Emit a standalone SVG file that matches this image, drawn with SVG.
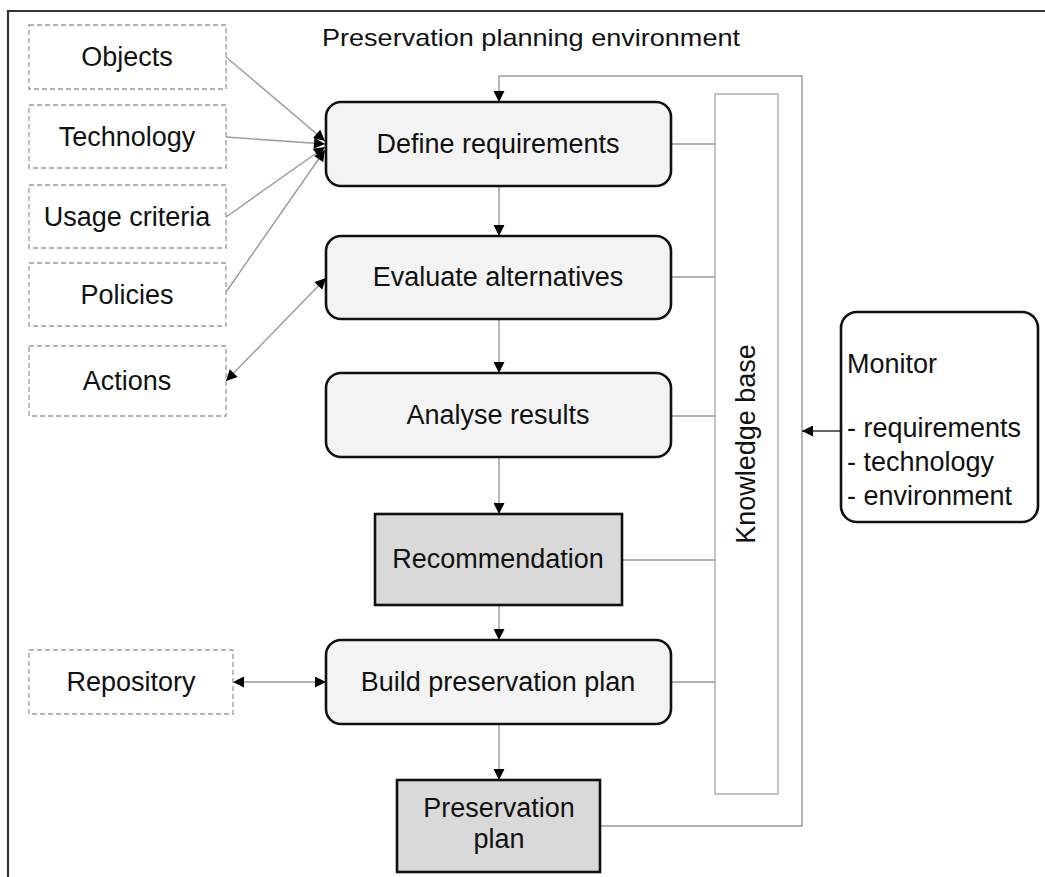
<svg xmlns="http://www.w3.org/2000/svg" width="1045" height="877" viewBox="0 0 1045 877">
<style>
text{font-family:"Liberation Sans",Arial,sans-serif;font-size:27px;fill:#111;text-anchor:middle}
.dash{fill:#fff;stroke:#9a9a9a;stroke-width:1.3;stroke-dasharray:5,3}
.step{fill:#f3f3f3;stroke:#111;stroke-width:2.6}
.out{fill:#d9d9d9;stroke:#111;stroke-width:2.6}
.con{fill:none;stroke:#9a9a9a;stroke-width:1.4}
.ar{marker-end:url(#ah)}
.bi{marker-start:url(#ah);marker-end:url(#ah)}
</style>
<defs>
<marker id="ah" viewBox="0 0 10 10" refX="10" refY="5" markerWidth="12" markerHeight="11" markerUnits="userSpaceOnUse" orient="auto-start-reverse">
<path d="M0,0 L10,5 L0,10 z" fill="#000"/>
</marker>
</defs>
<rect width="1045" height="877" fill="#fff"/>
<path d="M8,877 V11 H1045" fill="none" stroke="#333" stroke-width="2.2"/>
<text x="531" y="46" style="font-size:24px" textLength="418" lengthAdjust="spacingAndGlyphs">Preservation planning environment</text>

<g id="connectors">
<line class="con ar" x1="226" y1="57" x2="325" y2="141"/>
<line class="con ar" x1="226" y1="137" x2="325" y2="144"/>
<line class="con ar" x1="226" y1="217" x2="325" y2="147"/>
<line class="con ar" x1="226" y1="292" x2="325" y2="150"/>
<line class="con bi" x1="226" y1="381" x2="326" y2="278"/>
<line class="con bi" x1="233" y1="682" x2="326" y2="682"/>
<line class="con ar" x1="499" y1="186" x2="499" y2="236"/>
<line class="con ar" x1="499" y1="319" x2="499" y2="373"/>
<line class="con ar" x1="499" y1="457" x2="499" y2="514"/>
<line class="con ar" x1="499" y1="605" x2="499" y2="640"/>
<line class="con ar" x1="499" y1="724" x2="499" y2="780"/>
<line class="con" x1="671" y1="144" x2="715" y2="144"/>
<line class="con" x1="671" y1="277" x2="715" y2="277"/>
<line class="con" x1="671" y1="416" x2="715" y2="416"/>
<line class="con" x1="622" y1="560" x2="715" y2="560"/>
<line class="con" x1="671" y1="682" x2="715" y2="682"/>
<path class="con ar" d="M600,826 H802 V76 H499 V102"/>
<line class="ar" x1="841" y1="431" x2="802" y2="431" stroke="#333" stroke-width="1.4"/>
</g>

<g id="objects"><rect class="dash" x="29" y="25" width="197" height="64"/><text x="127" y="66">Objects</text></g>
<g id="technology"><rect class="dash" x="29" y="105" width="197" height="63"/><text x="127" y="146">Technology</text></g>
<g id="usage-criteria"><rect class="dash" x="29" y="185" width="197" height="63"/><text x="127" y="226">Usage criteria</text></g>
<g id="policies"><rect class="dash" x="29" y="263" width="197" height="63"/><text x="127" y="304">Policies</text></g>
<g id="actions"><rect class="dash" x="29" y="346" width="197" height="70"/><text x="127" y="390">Actions</text></g>
<g id="repository"><rect class="dash" x="29" y="650" width="204" height="64"/><text x="131" y="691">Repository</text></g>

<g id="define-requirements"><rect class="step" x="326" y="102" width="345" height="84" rx="15"/><text x="498" y="153">Define requirements</text></g>
<g id="evaluate-alternatives"><rect class="step" x="326" y="236" width="345" height="83" rx="15"/><text x="498" y="286">Evaluate alternatives</text></g>
<g id="analyse-results"><rect class="step" x="326" y="373" width="345" height="84" rx="15"/><text x="498" y="424">Analyse results</text></g>
<g id="recommendation"><rect class="out" x="375" y="514" width="247" height="91"/><text x="498" y="568">Recommendation</text></g>
<g id="build-preservation-plan"><rect class="step" x="326" y="640" width="345" height="84" rx="15"/><text x="498" y="691">Build preservation plan</text></g>
<g id="preservation-plan"><rect class="out" x="397" y="780" width="203" height="92"/><text x="499" y="817">Preservation</text><text x="499" y="848">plan</text></g>

<g id="knowledge-base"><rect x="715" y="94" width="63" height="700" fill="#fff" stroke="#aaa" stroke-width="1.4"/><text transform="translate(755,444) rotate(-90)">Knowledge base</text></g>

<g id="monitor"><rect x="841" y="312" width="197" height="210" rx="16" fill="#fff" stroke="#111" stroke-width="2.6"/>
<text x="847" y="373" style="text-anchor:start">Monitor</text>
<text x="847" y="437" style="text-anchor:start">- requirements</text>
<text x="847" y="471" style="text-anchor:start">- technology</text>
<text x="847" y="505" style="text-anchor:start">- environment</text></g>
</svg>
